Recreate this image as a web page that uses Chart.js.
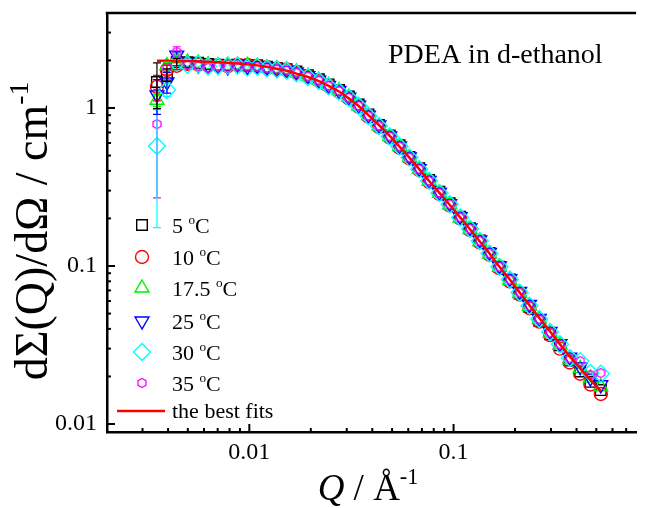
<!DOCTYPE html>
<html>
<head>
<meta charset="utf-8">
<script src="https://cdn.jsdelivr.net/npm/chart.js@4.4.1/dist/chart.umd.min.js"></script>
<style>
  html, body { margin: 0; padding: 0; background: #fff; }
  #wrap { width: 646px; height: 508px; }
</style>
</head>
<body>
<div id="wrap"><canvas id="chart" width="646" height="508"></canvas></div>
<script>
// scattering vector Q (1/Å)
var qValues = [0.00353, 0.00395, 0.00441, 0.00498, 0.00562, 0.00628, 0.00702, 0.00784, 0.00876, 0.00978,
  0.01093, 0.0122, 0.01363, 0.01523, 0.0170, 0.01936, 0.02188, 0.02443, 0.02748, 0.0307,
  0.0343, 0.0383, 0.0431, 0.0487, 0.0544, 0.0608, 0.0679, 0.0759, 0.0853, 0.0957,
  0.1077, 0.1203, 0.1344, 0.150, 0.1677, 0.1886, 0.2107, 0.2353, 0.2628, 0.297,
  0.3317, 0.3706, 0.417, 0.4677, 0.526];

// dΣ/dΩ (1/cm) per temperature
var t5 = [1.46, 1.62, 1.95, 1.95, 1.93, 1.90, 1.88, 1.87, 1.88, 1.86, 1.86, 1.82, 1.79, 1.76, 1.70, 1.61, 1.52, 1.41, 1.30, 1.18,
  1.05, 0.91, 0.78, 0.67, 0.58, 0.49, 0.415, 0.35, 0.295, 0.249, 0.205, 0.173, 0.145, 0.121, 0.099, 0.082, 0.067, 0.055, 0.045, 0.037,
  0.0315, 0.0252, 0.0215, 0.0185, 0.0164];
var t10 = [1.36, 1.74, 1.85, 1.90, 1.88, 1.86, 1.86, 1.84, 1.88, 1.87, 1.85, 1.81, 1.78, 1.75, 1.68, 1.59, 1.49, 1.38, 1.27, 1.15,
  1.02, 0.88, 0.76, 0.65, 0.56, 0.48, 0.405, 0.34, 0.286, 0.242, 0.200, 0.169, 0.141, 0.118, 0.097, 0.080, 0.066, 0.054, 0.0445, 0.0365,
  0.0300, 0.0245, 0.0208, 0.0178, 0.0155];
var t175 = [1.12, 1.85, 2.05, 1.95, 1.92, 1.88, 1.85, 1.86, 1.87, 1.86, 1.84, 1.80, 1.78, 1.75, 1.69, 1.59, 1.50, 1.39, 1.29, 1.17,
  1.03, 0.895, 0.77, 0.66, 0.57, 0.485, 0.41, 0.343, 0.288, 0.244, 0.201, 0.170, 0.142, 0.119, 0.098, 0.081, 0.067, 0.0555, 0.046, 0.0375,
  0.0315, 0.0255, 0.0225, 0.0195, 0.0172];
var t25 = [1.21, 1.46, 2.16, 1.96, 1.87, 1.86, 1.84, 1.82, 1.90, 1.83, 1.85, 1.81, 1.76, 1.73, 1.69, 1.60, 1.50, 1.39, 1.29, 1.17,
  1.04, 0.90, 0.78, 0.665, 0.575, 0.49, 0.413, 0.348, 0.292, 0.248, 0.205, 0.174, 0.146, 0.122, 0.100, 0.083, 0.069, 0.057, 0.0465, 0.0385,
  0.0322, 0.0265, 0.0230, 0.0195, 0.0177];
var t30 = [0.575, 1.30, 1.93, 1.88, 1.90, 1.83, 1.84, 1.86, 1.85, 1.80, 1.82, 1.78, 1.76, 1.72, 1.66, 1.57, 1.48, 1.37, 1.27, 1.16,
  1.03, 0.89, 0.77, 0.66, 0.57, 0.485, 0.41, 0.346, 0.290, 0.246, 0.203, 0.172, 0.144, 0.120, 0.099, 0.082, 0.068, 0.056, 0.0462, 0.0382,
  0.0320, 0.0262, 0.0250, 0.0210, 0.0208];
var t35 = [0.79, 1.79, 2.27, 1.88, 1.84, 1.80, 1.83, 1.81, 1.84, 1.82, 1.82, 1.78, 1.76, 1.73, 1.67, 1.58, 1.49, 1.38, 1.28, 1.16,
  1.03, 0.89, 0.77, 0.66, 0.57, 0.485, 0.41, 0.345, 0.290, 0.246, 0.203, 0.172, 0.144, 0.120, 0.099, 0.082, 0.068, 0.056, 0.046, 0.038,
  0.0320, 0.0260, 0.0250, 0.0205, 0.0210];

// error bars of the first three Q points
var err5 = [0.47, 0.15, 0.10];
var err10 = [0.25, 0.12, 0.10];
var err175 = [0.10, 0.10, 0.10];
var err25 = [0.30, 0.22, 0.10];
var err30 = [0.40, 0.12, 0.10];
var err35 = [0.52, 0.12, 0.17];

// model fit
var fitValues = [1.99, 1.99, 1.98, 1.98, 1.97, 1.96, 1.95, 1.93, 1.91, 1.89, 1.86, 1.82, 1.77, 1.72, 1.65, 1.57, 1.48, 1.38, 1.27, 1.15,
  1.03, 0.90, 0.78, 0.665, 0.57, 0.485, 0.41, 0.345, 0.290, 0.244, 0.203, 0.171, 0.143, 0.120, 0.099, 0.082, 0.068, 0.0565, 0.0468, 0.0385,
  0.0320, 0.0268, 0.0225, 0.0190, 0.0162];

var tempLabels = ['5', '10', '17.5', '25', '30', '35'];
var xTickLabels = [0.01, 0.1];
var yTickLabels = [0.01, 0.1, 1];

var serif = '"Liberation Serif", "Times New Roman", serif';

// small hexagon marker for 35 °C
var hex = document.createElement('canvas');
hex.width = 12; hex.height = 12;
(function () {
  var c = hex.getContext('2d');
  c.strokeStyle = '#ff00ff';
  c.lineWidth = 1.3;
  c.beginPath();
  for (var k = 0; k < 6; k++) {
    var a = Math.PI / 6 + k * Math.PI / 3;
    var px = 6 + 4.6 * Math.cos(a), py = 6 + 4.6 * Math.sin(a);
    if (k === 0) c.moveTo(px, py); else c.lineTo(px, py);
  }
  c.closePath();
  c.stroke();
})();

function pts(vals) {
  return qValues.map(function (q, i) { return { x: q, y: vals[i] }; });
}

function markerSet(label, vals, errs, color, style, radius, rotation, order) {
  return {
    label: label,
    data: pts(vals),
    errs: errs,
    showLine: false,
    pointStyle: style,
    pointRadius: radius,
    pointHoverRadius: radius,
    pointRotation: rotation,
    pointBorderColor: color,
    pointBackgroundColor: 'rgba(0,0,0,0)',
    pointBorderWidth: 1.4,
    borderColor: color,
    order: order
  };
}

function isDecade(v) {
  var l = Math.log10(v);
  return Math.abs(l - Math.round(l)) < 1e-6;
}
function isWholeStep(v) {
  var e = Math.floor(Math.log10(v) + 1e-9);
  var s = v / Math.pow(10, e);
  return Math.abs(s - Math.round(s)) < 1e-6;
}
function tickText(list) {
  return function (v) {
    for (var i = 0; i < list.length; i++) {
      if (Math.abs(v / list[i] - 1) < 1e-6) return String(list[i]);
    }
    return '';
  };
}
// no extra room for half labels at the axis ends
function noPad(s) {
  s.paddingTop = 0; s.paddingBottom = 0; s.paddingLeft = 0; s.paddingRight = 0;
}

// text with superscripts / italics
function drawRich(ctx, parts, x, y, size, align) {
  var total = 0;
  parts.forEach(function (p) {
    var s = p.sup ? size * 0.6 : size;
    ctx.font = (p.italic ? 'italic ' : '') + s + 'px ' + serif;
    p.w = ctx.measureText(p.t).width;
    total += p.w;
  });
  var cx = align === 'center' ? x - total / 2 : x;
  parts.forEach(function (p) {
    var s = p.sup ? size * 0.6 : size;
    ctx.font = (p.italic ? 'italic ' : '') + s + 'px ' + serif;
    ctx.fillText(p.t, cx, p.sup ? y - size * 0.42 : y);
    cx += p.w;
  });
}

var markerStyles = [
  { color: '#000000', style: 'rect', r: 7.5, rot: 0 },
  { color: '#ff0000', style: 'circle', r: 6.5, rot: 0 },
  { color: '#00ee00', style: 'triangle', r: 8, rot: 0 },
  { color: '#0000ff', style: 'triangle', r: 8, rot: 180 },
  { color: '#00ffff', style: 'rectRot', r: 8.5, rot: 0 },
  { color: '#ff00ff', style: hex, r: 5, rot: 0 }
];

var decorPlugin = {
  id: 'decor',
  afterDatasetsDraw: function (chart) {
    var ctx = chart.ctx, ys = chart.scales.y;
    ctx.save();
    ctx.lineWidth = 1.2;
    chart.data.datasets.forEach(function (ds, i) {
      if (!ds.errs) return;
      var meta = chart.getDatasetMeta(i);
      ctx.strokeStyle = ds.borderColor;
      ds.errs.forEach(function (e, j) {
        var v = ds.data[j].y;
        var px = meta.data[j].x;
        var top = ys.getPixelForValue(v + e);
        var bot = ys.getPixelForValue(Math.max(v - e, 0.0095));
        ctx.beginPath();
        ctx.moveTo(px, top); ctx.lineTo(px, bot);
        ctx.moveTo(px - 4, top); ctx.lineTo(px + 4, top);
        if (v - e > 0.0095) { ctx.moveTo(px - 4, bot); ctx.lineTo(px + 4, bot); }
        ctx.stroke();
      });
    });
    ctx.restore();
  },
  afterDraw: function (chart) {
    var ctx = chart.ctx, a = chart.chartArea;
    var xs = chart.scales.x, ys = chart.scales.y;
    ctx.save();
    ctx.strokeStyle = '#000';
    ctx.lineWidth = 2.5;
    ctx.beginPath();
    ctx.moveTo(a.left - 1.25, a.top); ctx.lineTo(a.right, a.top);
    ctx.stroke();

    // inward ticks
    ctx.lineWidth = 2;
    xs.ticks.forEach(function (t) {
      if (!isWholeStep(t.value)) return;
      var px = xs.getPixelForValue(t.value);
      if (px < a.left + 2 || px > a.right - 1) return;
      var len = isDecade(t.value) ? 8 : 4;
      ctx.beginPath(); ctx.moveTo(px, a.bottom); ctx.lineTo(px, a.bottom - len); ctx.stroke();
    });
    ys.ticks.forEach(function (t) {
      if (!isWholeStep(t.value)) return;
      var py = ys.getPixelForValue(t.value);
      if (py < a.top + 2 || py > a.bottom - 2) return;
      var len = isDecade(t.value) ? 8 : 4;
      ctx.beginPath(); ctx.moveTo(a.left, py); ctx.lineTo(a.left + len, py); ctx.stroke();
    });

    ctx.fillStyle = '#000';
    ctx.textBaseline = 'alphabetic';
    ctx.textAlign = 'left';

    // annotation
    ctx.font = '28px ' + serif;
    ctx.fillText('PDEA in d-ethanol', 388, 63);

    // legend
    var rowY = [225, 257, 288, 321, 352, 383];
    markerStyles.forEach(function (m, i) {
      ctx.strokeStyle = m.color;
      ctx.fillStyle = 'rgba(0,0,0,0)';
      ctx.lineWidth = 1.4;
      Chart.helpers.drawPoint(ctx, { pointStyle: m.style, radius: m.r, rotation: m.rot, borderWidth: 1.4 }, 142, rowY[i]);
      ctx.fillStyle = '#000';
      drawRich(ctx, [{ t: tempLabels[i] + ' ' }, { t: 'o', sup: true }, { t: 'C' }], 172, rowY[i] + 8, 22, 'left');
    });
    ctx.strokeStyle = '#ff0000';
    ctx.lineWidth = 2.5;
    ctx.beginPath(); ctx.moveTo(117, 411); ctx.lineTo(165, 411); ctx.stroke();
    ctx.fillStyle = '#000';
    ctx.font = '22px ' + serif;
    ctx.fillText('the best fits', 172, 418);

    // axis titles
    drawRich(ctx, [{ t: 'Q', italic: true }, { t: ' / Å' }, { t: '-1', sup: true }], 368, 500, 37, 'center');
    ctx.translate(47, 231);
    ctx.rotate(-Math.PI / 2);
    drawRich(ctx, [{ t: 'dΣ(Q)/dΩ / cm' }, { t: '-1', sup: true }], 0, 0, 46, 'center');
    ctx.restore();
  }
};

var datasets = [
  {
    label: 'the best fits',
    data: pts(fitValues),
    showLine: true,
    borderColor: '#ff0000',
    borderWidth: 2.5,
    pointRadius: 0,
    cubicInterpolationMode: 'monotone',
    order: 0
  },
  markerSet('35 °C', t35, err35, '#ff00ff', hex, 5, 0, 1),
  markerSet('30 °C', t30, err30, '#00ffff', 'rectRot', 8.5, 0, 2),
  markerSet('25 °C', t25, err25, '#0000ff', 'triangle', 8, 180, 3),
  markerSet('17.5 °C', t175, err175, '#00ee00', 'triangle', 8, 0, 4),
  markerSet('10 °C', t10, err10, '#ff0000', 'circle', 6.5, 0, 5),
  markerSet('5 °C', t5, err5, '#000000', 'rect', 7.5, 0, 6)
];

new Chart(document.getElementById('chart').getContext('2d'), {
  type: 'scatter',
  data: { datasets: datasets },
  options: {
    responsive: false,
    animation: false,
    layout: { padding: { top: 13, right: 0, left: 0, bottom: 0 } },
    plugins: { legend: { display: false }, tooltip: { enabled: false } },
    scales: {
      x: {
        type: 'logarithmic',
        min: 0.00201,
        max: 0.783,
        grid: { display: false, drawTicks: false },
        border: { display: true, color: '#000', width: 2.5 },
        ticks: {
          autoSkip: false,
          maxRotation: 0,
          padding: 6,
          color: '#000',
          font: { family: serif, size: 24 },
          callback: tickText(xTickLabels)
        },
        afterFit: function (s) { s.height = 76; noPad(s); }
      },
      y: {
        type: 'logarithmic',
        min: 0.0089,
        max: 3.99,
        grid: { display: false, drawTicks: false },
        border: { display: true, color: '#000', width: 2.5 },
        ticks: {
          autoSkip: false,
          padding: 10,
          color: '#000',
          font: { family: serif, size: 24 },
          callback: tickText(yTickLabels)
        },
        afterFit: function (s) { s.width = 107; noPad(s); }
      }
    }
  },
  plugins: [decorPlugin]
});
</script>
</body>
</html>
